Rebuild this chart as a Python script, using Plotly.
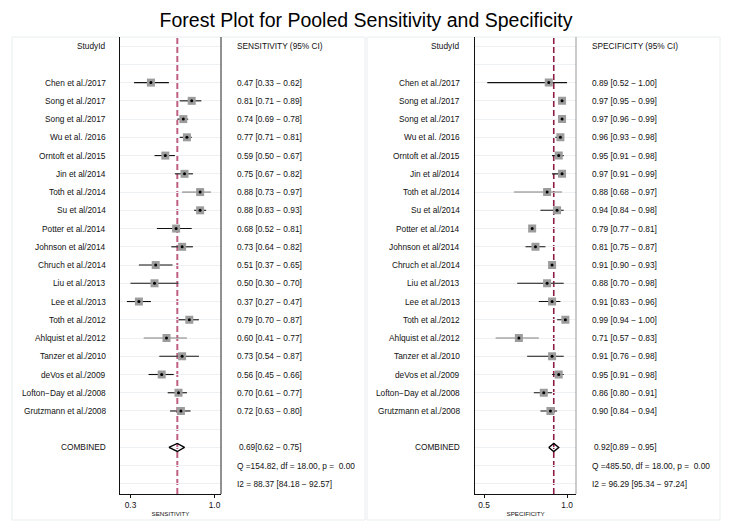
import plotly.graph_objects as go

studies = ["Chen et al./2017", "Song et al./2017", "Song et al./2017", "Wu et al. /2016",
           "Orntoft et al./2015", "Jin et al/2014", "Toth et al./2014", "Su et al/2014",
           "Potter et al./2014", "Johnson et al/2014", "Chruch et al./2014", "Liu et al./2013",
           "Lee et al./2013", "Toth et al./2012", "Ahlquist et al./2012", "Tanzer et al./2010",
           "deVos et al./2009", "Lofton\u2212Day et al./2008", "Grutzmann et al./2008"]

sens = [0.47, 0.81, 0.74, 0.77, 0.59, 0.75, 0.88, 0.88, 0.68, 0.73, 0.51, 0.50, 0.37, 0.79, 0.60, 0.73, 0.56, 0.70, 0.72]
sens_lo = [0.33, 0.71, 0.69, 0.71, 0.50, 0.67, 0.73, 0.83, 0.52, 0.64, 0.37, 0.30, 0.27, 0.70, 0.41, 0.54, 0.45, 0.61, 0.63]
sens_hi = [0.62, 0.89, 0.78, 0.81, 0.67, 0.82, 0.97, 0.93, 0.81, 0.82, 0.65, 0.70, 0.47, 0.87, 0.77, 0.87, 0.66, 0.77, 0.80]

spec = [0.89, 0.97, 0.97, 0.96, 0.95, 0.97, 0.88, 0.94, 0.79, 0.81, 0.91, 0.88, 0.91, 0.99, 0.71, 0.91, 0.95, 0.86, 0.90]
spec_lo = [0.52, 0.95, 0.96, 0.93, 0.91, 0.91, 0.68, 0.84, 0.77, 0.75, 0.90, 0.70, 0.83, 0.94, 0.57, 0.76, 0.91, 0.80, 0.84]
spec_hi = [1.00, 0.99, 0.99, 0.98, 0.98, 0.99, 0.97, 0.98, 0.81, 0.87, 0.93, 0.98, 0.96, 1.00, 0.83, 0.98, 0.98, 0.91, 0.94]

pooled_sens = [0.69, 0.62, 0.75]
pooled_spec = [0.92, 0.89, 0.95]
q_sens = "Q =154.82, df = 18.00, p =\u00a0 0.00"
q_spec = "Q =485.50, df = 18.00, p =\u00a0 0.00"
i2_sens = "I2 = 88.37 [84.18 \u2212 92.57]"
i2_spec = "I2 = 96.29 [95.34 \u2212 97.24]"

gray_ci = {"Toth et al./2014", "Ahlquist et al./2012"}

W, H = 732, 532
FONT = "Liberation Sans, Arial, Helvetica, sans-serif"
FS = 8.3

fig = go.Figure()

study_rows = list(range(2, 2 + len(studies)))
ROW_COMB, ROW_Q, ROW_I2 = 22, 23, 24

def px(x):
    return x / W

panels = [
    dict(xa="x", ya="y", est=sens, lo=sens_lo, hi=sens_hi, pooled=pooled_sens,
         head="SENSITIVITY (95% CI)", q=q_sens, i2=i2_sens,
         name_x=107.5, val_x=234.5, dash_col="#bf5f83", dash_w=2, right_col="#222222"),
    dict(xa="x2", ya="y2", est=spec, lo=spec_lo, hi=spec_hi, pooled=pooled_spec,
         head="SPECIFICITY (95% CI)", q=q_spec, i2=i2_spec,
         name_x=462, val_x=589.5, dash_col="#8c1c46", dash_w=1.6, right_col="#999999"),
]

annotations = []
shapes = []

for p in panels:
    xa, ya = p["xa"], p["ya"]
    # CI lines
    for col, sel in [("#111111", lambda s: s not in gray_ci), ("#808080", lambda s: s in gray_ci)]:
        xs, ys = [], []
        for s, r, lo, hi in zip(studies, study_rows, p["lo"], p["hi"]):
            if sel(s):
                xs += [lo, hi, None]
                ys += [r, r, None]
        fig.add_trace(go.Scatter(x=xs, y=ys, mode="lines", line=dict(color=col, width=1.1),
                                 xaxis=xa, yaxis=ya, showlegend=False, hoverinfo="skip"))
    # squares
    fig.add_trace(go.Scatter(x=p["est"], y=study_rows, mode="markers",
                             marker=dict(symbol="square", size=8, color="#9c9c9c", line=dict(width=0)),
                             xaxis=xa, yaxis=ya, showlegend=False))
    fig.add_trace(go.Scatter(x=p["est"], y=study_rows, mode="markers",
                             marker=dict(symbol="circle", size=3, color="black", line=dict(width=0)),
                             xaxis=xa, yaxis=ya, showlegend=False))
    # diamond
    e, lo, hi = p["pooled"]
    h = 0.22
    fig.add_trace(go.Scatter(x=[lo, e, hi, e, lo], y=[ROW_COMB, ROW_COMB - h, ROW_COMB, ROW_COMB + h, ROW_COMB],
                             mode="lines", line=dict(color="black", width=1.4),
                             xaxis=xa, yaxis=ya, showlegend=False, hoverinfo="skip"))
    # dashed pooled line
    shapes.append(dict(type="line", xref=xa, yref=f"{ya} domain", x0=e, x1=e, y0=0, y1=1,
                       line=dict(color=p["dash_col"], width=p["dash_w"], dash="6px,3px"), layer="below"))
    # right border of plot area
    shapes.append(dict(type="line", xref=f"{xa} domain", yref=f"{ya} domain", x0=1, x1=1, y0=0, y1=1,
                       line=dict(color=p["right_col"], width=1)))

    def ann(text, x, row, anchor):
        annotations.append(dict(text=text, xref="paper", x=px(x), yref=ya, y=row,
                                xanchor=anchor, yanchor="middle", showarrow=False,
                                font=dict(size=FS, color="#111111", family=FONT)))

    ann("StudyId", p["name_x"], 0, "right")
    ann(p["head"], p["val_x"], 0, "left")
    for s, r, v, l, u in zip(studies, study_rows, p["est"], p["lo"], p["hi"]):
        ann(s, p["name_x"], r, "right")
        ann(f"{v:.2f} [{l:.2f} \u2212 {u:.2f}]", p["val_x"], r, "left")
    ann("COMBINED", p["name_x"], ROW_COMB, "right")
    ann(f"{e:.2f}[{lo:.2f} \u2212 {hi:.2f}]", p["val_x"] + 2.5, ROW_COMB, "left")
    ann(p["q"], p["val_x"], ROW_Q, "left")
    ann(p["i2"], p["val_x"], ROW_I2, "left")

# panel boxes
for x0, x1 in [(12, 365), (367, 720)]:
    shapes.append(dict(type="rect", xref="paper", yref="paper", x0=px(x0), x1=px(x1),
                       y0=(H - 520) / H, y1=(H - 37) / H, line=dict(color="#e8edef", width=1),
                       fillcolor="rgba(0,0,0,0)", layer="below"))

ydom = [(H - 494) / H, (H - 37) / H]
yax = dict(domain=ydom, range=[24.55, -0.5], showline=True, linecolor="#111111", linewidth=1,
           showticklabels=False, ticks="", showgrid=True, gridcolor="#edf1f3", gridwidth=1,
           tick0=0, dtick=1, zeroline=False, fixedrange=True, automargin=False)
xcommon = dict(showline=True, linecolor="#111111", linewidth=1, ticks="outside", ticklen=3,
               tickcolor="#111111", tickfont=dict(size=FS, color="#111111", family=FONT),
               showgrid=False, zeroline=False, automargin=False)

fig.update_layout(
    width=W, height=H, margin=dict(l=0, r=0, t=0, b=0),
    paper_bgcolor="white", plot_bgcolor="white",
    title=dict(text="Forest Plot for Pooled Sensitivity and Specificity", x=0.5, xanchor="center",
               y=1 - 20.5 / H, yanchor="middle", font=dict(size=19.5, color="black", family=FONT)),
    xaxis=dict(domain=[px(120), px(221)], range=[0.2125, 1.054], tickvals=[0.3, 1.0], ticktext=["0.3", "1.0"],
               anchor="y", title=dict(text="SENSITIVITY", font=dict(size=6.2, family=FONT, color="#111111"), standoff=2),
               **xcommon),
    yaxis=dict(anchor="x", **yax),
    xaxis2=dict(domain=[px(475.3), px(576)], range=[0.4476, 1.054], tickvals=[0.5, 1.0], ticktext=["0.5", "1.0"],
                anchor="y2", title=dict(text="SPECIFICITY", font=dict(size=6.2, family=FONT, color="#111111"), standoff=2),
                **xcommon),
    yaxis2=dict(anchor="x2", **yax),
    annotations=annotations, shapes=shapes,
)

fig.write_html("out.html", config={"displayModeBar": False},
               post_script="document.body.style.margin='0';document.body.style.overflow='hidden';")
